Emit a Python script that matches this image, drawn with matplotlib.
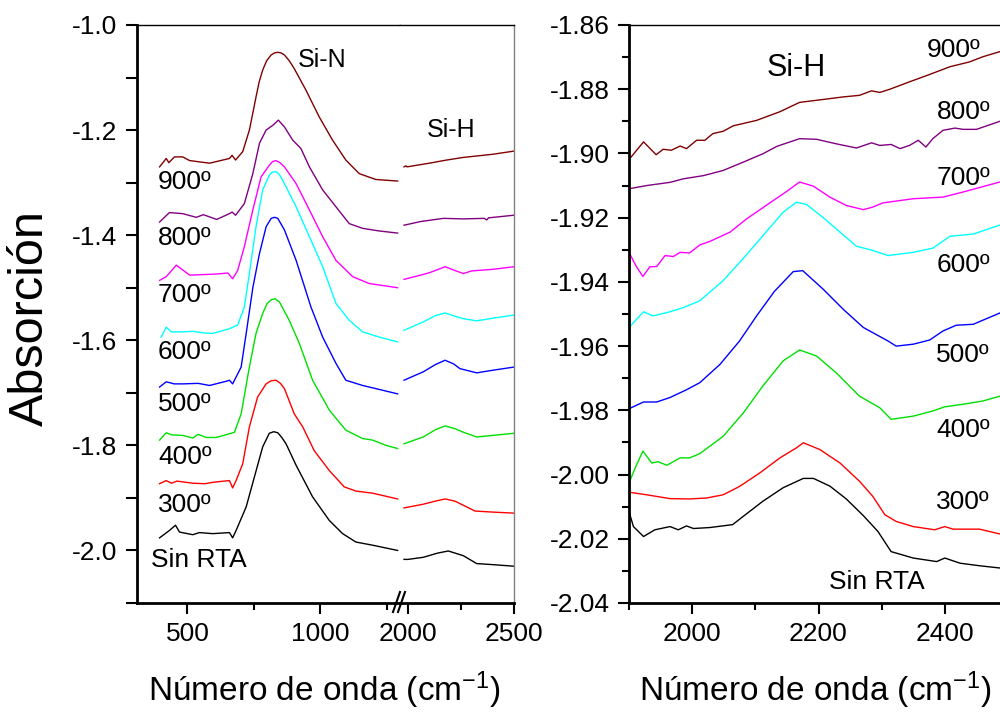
import matplotlib
matplotlib.use('Agg')
import matplotlib.pyplot as plt
from matplotlib.ticker import MultipleLocator, FixedLocator

plt.rcParams['font.family'] = ['Liberation Sans', 'DejaVu Sans']
plt.rcParams['mathtext.fontset'] = 'custom'
plt.rcParams['mathtext.rm'] = 'Liberation Sans'
plt.rcParams['mathtext.it'] = 'Liberation Sans'

# series names and colours (bottom to top)
names = ['Sin RTA', '300º', '400º', '500º', '600º', '700º', '800º', '900º']
colors = ['black', '#ff0000', '#00e000', '#0000ff', '#00ffff', '#ff00ff', '#800080', '#800000']

# ---- left panel, Si-N region (wavenumber, absorbance) ----
sin_lo = [(395, -1.976), (432, -1.962), (455, -1.952), (470, -1.965), (520, -1.970), (545, -1.966),
          (595, -1.968), (658, -1.966), (670, -1.976), (683, -1.962), (721, -1.917), (752, -1.860),
          (783, -1.803), (808, -1.777), (825, -1.774), (840, -1.776), (855, -1.785), (871, -1.797),
          (909, -1.838), (971, -1.898), (1034, -1.943), (1084, -1.968), (1134, -1.984), (1197, -1.990),
          (1291, -2.000)]
t300_lo = [(395, -1.873), (420, -1.867), (440, -1.872), (460, -1.868), (520, -1.872), (565, -1.873),
           (600, -1.870), (658, -1.867), (670, -1.881), (683, -1.867), (708, -1.835), (733, -1.765),
           (764, -1.708), (796, -1.683), (815, -1.677), (833, -1.676), (850, -1.682), (865, -1.692),
           (902, -1.740), (934, -1.765), (977, -1.810), (1034, -1.848), (1090, -1.879), (1134, -1.887),
           (1197, -1.891), (1291, -1.902)]
t400_lo = [(395, -1.790), (420, -1.776), (440, -1.780), (482, -1.781), (520, -1.786), (540, -1.779),
           (570, -1.785), (608, -1.785), (658, -1.778), (677, -1.775), (702, -1.740), (733, -1.651),
           (758, -1.587), (783, -1.549), (800, -1.530), (815, -1.523), (830, -1.521), (846, -1.527),
           (883, -1.562), (921, -1.606), (971, -1.676), (1034, -1.733), (1096, -1.771), (1159, -1.787),
           (1197, -1.790), (1247, -1.800), (1291, -1.806)]
t500_lo = [(395, -1.689), (420, -1.679), (450, -1.683), (482, -1.683), (540, -1.682), (583, -1.686),
           (646, -1.678), (658, -1.676), (670, -1.683), (683, -1.670), (702, -1.651), (721, -1.587),
           (746, -1.500), (771, -1.435), (796, -1.384), (815, -1.368), (828, -1.366), (840, -1.368),
           (865, -1.390), (909, -1.448), (965, -1.537), (1009, -1.594), (1059, -1.644), (1096, -1.676),
           (1159, -1.686), (1209, -1.692), (1291, -1.702)]
t600_lo = [(401, -1.594), (420, -1.575), (439, -1.584), (482, -1.584), (520, -1.583), (560, -1.586),
           (595, -1.587), (658, -1.578), (689, -1.571), (714, -1.537), (733, -1.473), (758, -1.384),
           (783, -1.314), (808, -1.286), (820, -1.280), (833, -1.279), (845, -1.284), (858, -1.295),
           (909, -1.346), (959, -1.403), (1009, -1.460), (1059, -1.530), (1109, -1.562), (1159, -1.584),
           (1222, -1.594), (1291, -1.603)]
t700_lo = [(395, -1.486), (420, -1.479), (458, -1.457), (508, -1.476), (608, -1.474), (652, -1.472),
           (670, -1.483), (689, -1.467), (714, -1.422), (746, -1.352), (777, -1.289), (808, -1.267),
           (820, -1.260), (833, -1.258), (848, -1.262), (865, -1.270), (909, -1.302), (959, -1.352),
           (1009, -1.403), (1059, -1.448), (1122, -1.479), (1184, -1.492), (1291, -1.500)]
t800_lo = [(395, -1.375), (432, -1.357), (482, -1.359), (533, -1.366), (560, -1.361), (610, -1.370),
           (658, -1.359), (668, -1.356), (681, -1.362), (714, -1.340), (746, -1.283), (771, -1.225),
           (796, -1.200), (821, -1.191), (842, -1.181), (865, -1.194), (896, -1.219), (927, -1.235),
           (959, -1.270), (1009, -1.314), (1059, -1.346), (1109, -1.378), (1159, -1.387), (1222, -1.392),
           (1291, -1.396)]
t900_lo = [(395, -1.270), (420, -1.254), (430, -1.262), (451, -1.251), (482, -1.251), (508, -1.258),
           (583, -1.263), (658, -1.254), (668, -1.248), (681, -1.257), (708, -1.241), (733, -1.200),
           (745, -1.170), (758, -1.137), (770, -1.108), (783, -1.086), (798, -1.068), (815, -1.057),
           (828, -1.053), (840, -1.052), (852, -1.053), (865, -1.057), (883, -1.068), (902, -1.083),
           (946, -1.124), (996, -1.175), (1046, -1.219), (1096, -1.257), (1147, -1.283), (1209, -1.294),
           (1291, -1.297)]

# ---- left panel, Si-H region ----
sin_hi = [(1981, -2.017), (2000, -2.017), (2072, -2.013), (2140, -2.005), (2190, -2.001), (2261, -2.010),
          (2324, -2.025), (2400, -2.027), (2500, -2.030)]
t300_hi = [(1981, -1.919), (2072, -1.912), (2130, -1.906), (2175, -1.902), (2220, -1.906), (2261, -1.914),
           (2316, -1.925), (2400, -1.927), (2500, -1.929)]
t400_hi = [(1981, -1.797), (2072, -1.784), (2130, -1.770), (2175, -1.763), (2220, -1.768), (2261, -1.775),
           (2324, -1.784), (2400, -1.781), (2500, -1.777)]
t500_hi = [(1981, -1.676), (2072, -1.660), (2130, -1.646), (2175, -1.638), (2215, -1.645), (2245, -1.654),
           (2324, -1.662), (2400, -1.657), (2500, -1.651)]
t600_hi = [(1981, -1.581), (2072, -1.565), (2130, -1.553), (2175, -1.548), (2220, -1.554), (2261, -1.559),
           (2324, -1.563), (2400, -1.558), (2500, -1.552)]
t700_hi = [(1981, -1.484), (2060, -1.476), (2104, -1.471), (2175, -1.460), (2220, -1.467), (2261, -1.473),
           (2300, -1.468), (2400, -1.465), (2500, -1.460)]
t800_hi = [(1981, -1.381), (2060, -1.374), (2167, -1.368), (2261, -1.369), (2360, -1.368), (2371, -1.371),
           (2380, -1.367), (2500, -1.362)]
t900_hi = [(1981, -1.270), (1990, -1.268), (1995, -1.270), (2100, -1.263), (2182, -1.257), (2261, -1.252),
           (2400, -1.246), (2500, -1.240)]

# ---- right panel, Si-H zoom ----
sin_r = [(1900, -2.0115), (1907, -2.0162), (1923, -2.0193), (1941, -2.0172), (1965, -2.0162), (1978, -2.0172),
         (1991, -2.0160), (2002, -2.0168), (2028, -2.0165), (2064, -2.0156), (2081, -2.0130), (2112, -2.0083),
         (2144, -2.0041), (2176, -2.0012), (2192, -2.0012), (2218, -2.0036), (2244, -2.0076), (2271, -2.0128),
         (2294, -2.0177), (2315, -2.0240), (2350, -2.0260), (2387, -2.0271), (2400, -2.0260), (2424, -2.0276),
         (2455, -2.0284), (2487, -2.0291), (2500, -2.0293)]
t300_r = [(1900, -2.0055), (1928, -2.0063), (1965, -2.0075), (1996, -2.0076), (2023, -2.0073), (2049, -2.0063),
          (2075, -2.0037), (2107, -1.9995), (2139, -1.9948), (2165, -1.9917), (2176, -1.9901), (2202, -1.9922),
          (2234, -1.9964), (2265, -2.0021), (2286, -2.0068), (2305, -2.0125), (2323, -2.0146), (2350, -2.0162),
          (2384, -2.0172), (2400, -2.0162), (2413, -2.0170), (2455, -2.0170), (2487, -2.0185), (2500, -2.0188)]
t400_r = [(1900, -2.0026), (1911, -1.9974), (1922, -1.9927), (1936, -1.9964), (1946, -1.9960), (1960, -1.9971),
          (1981, -1.9948), (1996, -1.9948), (2012, -1.9935), (2049, -1.9881), (2081, -1.9808), (2112, -1.9724),
          (2144, -1.9646), (2170, -1.9612), (2197, -1.9631), (2228, -1.9683), (2265, -1.9756), (2297, -1.9792),
          (2315, -1.9828), (2350, -1.9818), (2381, -1.9802), (2400, -1.9789), (2429, -1.9781), (2460, -1.9771),
          (2487, -1.9756), (2500, -1.9750)]
t500_r = [(1900, -1.9795), (1923, -1.9774), (1944, -1.9774), (1965, -1.9760), (1991, -1.9736), (2012, -1.9714),
          (2044, -1.9657), (2075, -1.9584), (2102, -1.9506), (2130, -1.9430), (2160, -1.9368), (2175, -1.9365),
          (2207, -1.9422), (2239, -1.9485), (2271, -1.9542), (2310, -1.9584), (2323, -1.9600), (2350, -1.9594),
          (2376, -1.9581), (2397, -1.9553), (2418, -1.9535), (2445, -1.9532), (2487, -1.9497), (2500, -1.9490)]
t600_r = [(1900, -1.9542), (1923, -1.9493), (1938, -1.9506), (1965, -1.9493), (1986, -1.9480), (2012, -1.9459),
          (2049, -1.9396), (2081, -1.9327), (2112, -1.9256), (2144, -1.9183), (2165, -1.9152), (2181, -1.9159),
          (2207, -1.9199), (2234, -1.9245), (2260, -1.9289), (2286, -1.9302), (2310, -1.9318), (2350, -1.9308),
          (2381, -1.9295), (2408, -1.9258), (2445, -1.9251), (2487, -1.9223), (2500, -1.9218)]
t700_r = [(1900, -1.9308), (1911, -1.9350), (1922, -1.9383), (1933, -1.9353), (1944, -1.9352), (1957, -1.9318),
          (1970, -1.9321), (1981, -1.9308), (1996, -1.9310), (2012, -1.9285), (2028, -1.9274), (2060, -1.9245),
          (2086, -1.9204), (2123, -1.9154), (2152, -1.9115), (2170, -1.9089), (2192, -1.9102), (2218, -1.9136),
          (2244, -1.9162), (2271, -1.9175), (2286, -1.9167), (2302, -1.9154), (2350, -1.9141), (2397, -1.9136),
          (2429, -1.9120), (2487, -1.9089), (2500, -1.9085)]
t800_r = [(1900, -1.9110), (1928, -1.9100), (1965, -1.9090), (1986, -1.9079), (2018, -1.9069), (2049, -1.9053),
          (2081, -1.9027), (2112, -1.9001), (2134, -1.8978), (2170, -1.8954), (2197, -1.8956), (2228, -1.8970),
          (2260, -1.8983), (2284, -1.8967), (2297, -1.8975), (2315, -1.8972), (2329, -1.8985), (2344, -1.8975),
          (2358, -1.8959), (2370, -1.8980), (2381, -1.8954), (2397, -1.8928), (2416, -1.8921), (2429, -1.8925),
          (2450, -1.8925), (2487, -1.8900), (2500, -1.8895)]
t900_r = [(1900, -1.9019), (1923, -1.8964), (1943, -1.9004), (1954, -1.8987), (1967, -1.8990), (1981, -1.8977),
          (1991, -1.8985), (2007, -1.8959), (2020, -1.8959), (2033, -1.8938), (2049, -1.8931), (2065, -1.8914),
          (2102, -1.8897), (2139, -1.8870), (2170, -1.8841), (2207, -1.8832), (2239, -1.8824), (2265, -1.8819),
          (2284, -1.8805), (2297, -1.8810), (2313, -1.8800), (2344, -1.8777), (2376, -1.8754), (2408, -1.8730),
          (2439, -1.8715), (2460, -1.8699), (2487, -1.8683), (2500, -1.8676)]

left_lo = [sin_lo, t300_lo, t400_lo, t500_lo, t600_lo, t700_lo, t800_lo, t900_lo]
left_hi = [sin_hi, t300_hi, t400_hi, t500_hi, t600_hi, t700_hi, t800_hi, t900_hi]
right = [sin_r, t300_r, t400_r, t500_r, t600_r, t700_r, t800_r, t900_r]

W, H = 1000, 713
fig = plt.figure(figsize=(W / 100, H / 100), dpi=100)


def box(x0, x1, y0, y1):
    return [x0 / W, 1 - y1 / H, (x1 - x0) / W, (y1 - y0) / H]


ax1 = fig.add_axes(box(137, 400, 25, 603))
ax2 = fig.add_axes(box(400, 514, 25, 603))
ax3 = fig.add_axes(box(629, 1008, 25, 603))

for seg, c in zip(left_lo, colors):
    ax1.plot([p[0] for p in seg], [p[1] for p in seg], color=c, lw=1)
for seg, c in zip(left_hi, colors):
    ax2.plot([p[0] for p in seg], [p[1] for p in seg], color=c, lw=1)
for seg, c in zip(right, colors):
    ax3.plot([p[0] for p in seg], [p[1] for p in seg], color=c, lw=1)

tick_fs = 19
for ax in (ax1, ax2):
    ax.set_ylim(-2.1, -1.0)
ax1.set_xlim(310, 1300)
ax2.set_xlim(1962, 2500)
ax3.set_xlim(1900, 2500)
ax3.set_ylim(-2.04, -1.86)

ax1.xaxis.set_major_locator(FixedLocator([500, 1000]))
ax1.xaxis.set_minor_locator(FixedLocator([750, 1250]))
ax1.yaxis.set_major_locator(MultipleLocator(0.2))
ax1.yaxis.set_minor_locator(MultipleLocator(0.1))
ax1.yaxis.set_major_formatter(matplotlib.ticker.FormatStrFormatter('%.1f'))
ax2.xaxis.set_major_locator(FixedLocator([2000, 2500]))
ax2.xaxis.set_minor_locator(FixedLocator([2250]))
ax2.set_yticks([])
ax3.xaxis.set_major_locator(MultipleLocator(200))
ax3.xaxis.set_minor_locator(MultipleLocator(100))
ax3.yaxis.set_major_locator(MultipleLocator(0.02))
ax3.yaxis.set_minor_locator(MultipleLocator(0.01))
ax3.yaxis.set_major_formatter(matplotlib.ticker.FormatStrFormatter('%.2f'))

for ax in (ax1, ax2, ax3):
    ax.tick_params(which='major', direction='out', length=8, width=1.5, labelsize=tick_fs, pad=6)
    ax.tick_params(which='minor', direction='out', length=5, width=1.5)
    ax.tick_params(top=False, right=False, which='both')
    for s in ('left', 'bottom'):
        ax.spines[s].set_linewidth(2)
    ax.spines['top'].set_linewidth(1)
    ax.spines['right'].set_linewidth(1)
    ax.spines['right'].set_color('#808080')
ax1.tick_params(axis='y', which='minor', length=8)
ax1.spines['right'].set_visible(False)
ax2.spines['left'].set_visible(False)
ax2.tick_params(axis='y', which='both', left=False)

# axis break marks
for dx in (0, 5):
    fig.add_artist(plt.Line2D([(393 + dx) / W, (400 + dx) / W], [1 - 612 / H, 1 - 592 / H],
                              color='black', lw=1.5))

# annotations
def label(x, y, s, fs=19, ha='left'):
    fig.text(x / W, 1 - y / H, s, fontsize=fs, ha=ha, va='center')


label(322, 60, 'Si-N', 18, 'center')
label(451, 130, 'Si-H', 18, 'center')
left_y = [560, 505, 457, 404, 352, 295, 238, 182]
for n, y in zip(names, left_y):
    label(151 if n == 'Sin RTA' else 158, y, n, 19)

label(796, 68, 'Si-H', 22, 'center')
right_y = [582, 502, 430, 355, 265, 178, 112, 50]
right_x = [925, 990, 990, 990, 990, 990, 990, 980]
for n, x, y in zip(names, right_x, right_y):
    label(x, y, n, 19, 'right')

fig.text(30 / W, 1 - 318 / H, 'Absorción', fontsize=35, rotation=90, ha='center', va='center')
fig.text(324 / W, 1 - 690 / H, 'Número de onda (cm$^{-1}$)', fontsize=24, ha='center', va='center')
fig.text(815 / W, 1 - 690 / H, 'Número de onda (cm$^{-1}$)', fontsize=24, ha='center', va='center')

fig.savefig('out.png', dpi=100)
